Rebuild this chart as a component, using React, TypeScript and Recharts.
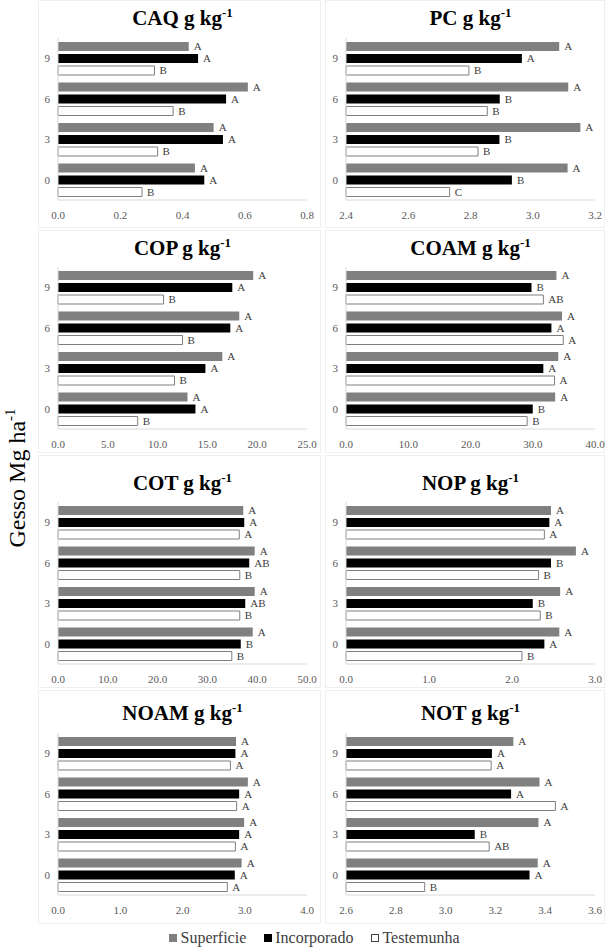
import React from "react";
import { BarChart, Bar, XAxis, YAxis, LabelList } from "recharts";

const doses = ["9", "6", "3", "0"];

const caqSup = [0.42, 0.61, 0.5, 0.44];
const caqInc = [0.45, 0.54, 0.53, 0.47];
const caqTes = [0.31, 0.37, 0.32, 0.27];
const caqLet = [["A", "A", "B"], ["A", "A", "B"], ["A", "A", "B"], ["A", "A", "B"]];

const pcSup = [3.085, 3.114, 3.153, 3.112];
const pcInc = [2.965, 2.894, 2.893, 2.933];
const pcTes = [2.795, 2.854, 2.824, 2.733];
const pcLet = [["A", "A", "B"], ["A", "B", "B"], ["A", "B", "B"], ["A", "B", "C"]];

const copSup = [19.6, 18.2, 16.5, 13.0];
const copInc = [17.5, 17.3, 14.8, 13.8];
const copTes = [10.6, 12.5, 11.7, 8.0];
const copLet = [["A", "A", "B"], ["A", "A", "B"], ["A", "A", "B"], ["A", "A", "B"]];

const coamSup = [33.8, 34.7, 34.1, 33.6];
const coamInc = [29.8, 33.0, 31.7, 30.0];
const coamTes = [31.7, 34.9, 33.5, 29.1];
const coamLet = [["A", "B", "AB"], ["A", "A", "A"], ["A", "A", "A"], ["A", "B", "B"]];

const cotSup = [37.2, 39.5, 39.5, 39.1];
const cotInc = [37.4, 38.4, 37.6, 36.7];
const cotTes = [36.4, 36.5, 36.5, 34.9];
const cotLet = [["A", "A", "A"], ["A", "AB", "B"], ["A", "AB", "B"], ["A", "B", "B"]];

const nopSup = [2.47, 2.77, 2.58, 2.57];
const nopInc = [2.45, 2.47, 2.25, 2.39];
const nopTes = [2.39, 2.32, 2.34, 2.12];
const nopLet = [["A", "A", "A"], ["A", "B", "B"], ["A", "B", "B"], ["A", "A", "B"]];

const noamSup = [2.86, 3.05, 2.99, 2.95];
const noamInc = [2.85, 2.91, 2.91, 2.84];
const noamTes = [2.77, 2.87, 2.85, 2.72];
const noamLet = [["A", "A", "A"], ["A", "A", "A"], ["A", "A", "A"], ["A", "A", "A"]];

const notSup = [3.272, 3.377, 3.373, 3.37];
const notInc = [3.186, 3.263, 3.117, 3.337];
const notTes = [3.183, 3.441, 3.175, 2.916];
const notLet = [["A", "A", "A"], ["A", "A", "A"], ["A", "B", "AB"], ["A", "A", "B"]];

const legendNames = ["Superficie", "Incorporado", "Testemunha"];

const SERIF = "Liberation Serif, Times New Roman, Times, serif";
const GRAY = "#808080";

const buildRows = (sup: number[], inc: number[], tes: number[], lets: string[][]) =>
  doses.map((d, i) => ({
    dose: d,
    sup: sup[i],
    inc: inc[i],
    tes: tes[i],
    supL: lets[i][0],
    incL: lets[i][1],
    tesL: lets[i][2],
  }));

const panels = [
  { name: "CAQ", rows: buildRows(caqSup, caqInc, caqTes, caqLet), domain: [0, 0.8], ticks: [0, 0.2, 0.4, 0.6, 0.8], col: 0, row: 0 },
  { name: "PC", rows: buildRows(pcSup, pcInc, pcTes, pcLet), domain: [2.4, 3.2], ticks: [2.4, 2.6, 2.8, 3.0, 3.2], col: 1, row: 0 },
  { name: "COP", rows: buildRows(copSup, copInc, copTes, copLet), domain: [0, 25], ticks: [0, 5, 10, 15, 20, 25], col: 0, row: 1 },
  { name: "COAM", rows: buildRows(coamSup, coamInc, coamTes, coamLet), domain: [0, 40], ticks: [0, 10, 20, 30, 40], col: 1, row: 1 },
  { name: "COT", rows: buildRows(cotSup, cotInc, cotTes, cotLet), domain: [0, 50], ticks: [0, 10, 20, 30, 40, 50], col: 0, row: 2 },
  { name: "NOP", rows: buildRows(nopSup, nopInc, nopTes, nopLet), domain: [0, 3], ticks: [0, 1, 2, 3], col: 1, row: 2 },
  { name: "NOAM", rows: buildRows(noamSup, noamInc, noamTes, noamLet), domain: [0, 4], ticks: [0, 1, 2, 3, 4], col: 0, row: 3 },
  { name: "NOT", rows: buildRows(notSup, notInc, notTes, notLet), domain: [2.6, 3.6], ticks: [2.6, 2.8, 3.0, 3.2, 3.4, 3.6], col: 1, row: 3 },
];

// layout (pixels)
const plotLeft = [58, 346];
const plotTop = [38, 267, 502, 733];
const titleY = [18, 248, 483, 713];
const plotW = 249;
const plotH = 162;
const yAxisW = 30;
const rightM = 18;
const xAxisH = 28;
const boxX = [[38, 321], [325, 605]];
const boxY = [[0, 228], [230, 453], [455, 688], [690, 924]];

const labelStyle = { fontSize: 11, fill: "#404040", fontFamily: SERIF };
const tickStyle = { fontSize: 11, fill: "#595959", fontFamily: SERIF };

function Panel({ p }: { p: (typeof panels)[number] }) {
  const left = plotLeft[p.col] - yAxisW;
  const top = plotTop[p.row];
  return (
    <>
      <div
        style={{
          position: "absolute",
          left: boxX[p.col][0],
          top: boxY[p.row][0],
          width: boxX[p.col][1] - boxX[p.col][0],
          height: boxY[p.row][1] - boxY[p.row][0],
          border: "1px solid #efefef",
          boxSizing: "border-box",
        }}
      />
      <div
        style={{
          position: "absolute",
          left: plotLeft[p.col],
          width: plotW,
          top: titleY[p.row] - 13,
          height: 26,
          lineHeight: "26px",
          textAlign: "center",
          fontFamily: SERIF,
          fontWeight: "bold",
          fontSize: 21,
          color: "#000",
          whiteSpace: "nowrap",
        }}
      >
        {p.name} g kg<sup style={{ fontSize: 13, verticalAlign: "8px", lineHeight: 0 }}>-1</sup>
      </div>
      <div style={{ position: "absolute", left, top }}>
        <BarChart
          width={yAxisW + plotW + rightM}
          height={plotH + xAxisH}
          data={p.rows}
          layout="vertical"
          margin={{ top: 0, right: rightM, bottom: 0, left: 0 }}
          barSize={9}
          barGap={3}
        >
          <XAxis
            type="number"
            domain={p.domain}
            ticks={p.ticks}
            interval={0}
            height={xAxisH}
            tickLine={false}
            axisLine={{ stroke: "#d9d9d9" }}
            tickFormatter={(v: number) => v.toFixed(1)}
            tick={{ ...tickStyle, dy: 3 }}
          />
          <YAxis
            type="category"
            dataKey="dose"
            width={yAxisW}
            tickLine={false}
            axisLine={{ stroke: "#d9d9d9" }}
            tick={tickStyle}
          />
          <Bar dataKey="sup" fill={GRAY} isAnimationActive={false}>
            <LabelList dataKey="supL" position="right" offset={5} style={labelStyle} />
          </Bar>
          <Bar dataKey="inc" fill="#000" isAnimationActive={false}>
            <LabelList dataKey="incL" position="right" offset={5} style={labelStyle} />
          </Bar>
          <Bar dataKey="tes" fill="#fff" stroke="#7f7f7f" strokeWidth={1} isAnimationActive={false}>
            <LabelList dataKey="tesL" position="right" offset={5} style={labelStyle} />
          </Bar>
        </BarChart>
      </div>
    </>
  );
}

const legendColors = [
  { fill: GRAY, border: GRAY },
  { fill: "#000", border: "#000" },
  { fill: "#fff", border: "#404040" },
];

export default function App() {
  return (
    <div
      style={{
        position: "absolute",
        left: 0,
        top: 0,
        width: 605,
        height: 951,
        background: "#fff",
        overflow: "hidden",
      }}
    >
      {panels.map((p) => (
        <Panel key={p.name} p={p} />
      ))}

      <div
        style={{
          position: "absolute",
          left: 17 - 110,
          top: 478 - 15,
          width: 220,
          height: 30,
          lineHeight: "30px",
          textAlign: "center",
          transform: "rotate(-90deg)",
          fontFamily: SERIF,
          fontSize: 24,
          color: "#000",
          whiteSpace: "nowrap",
        }}
      >
        Gesso Mg ha<sup style={{ fontSize: 15, verticalAlign: "10px", lineHeight: 0 }}>-1</sup>
      </div>

      <div
        style={{
          position: "absolute",
          left: 0,
          width: 605,
          top: 938 - 10,
          height: 20,
          display: "flex",
          justifyContent: "center",
          alignItems: "center",
          fontFamily: SERIF,
          fontSize: 16,
          color: "#404040",
          paddingLeft: 24,
          boxSizing: "border-box",
        }}
      >
        {legendNames.map((n, i) => (
          <span key={n} style={{ display: "flex", alignItems: "center", marginRight: i < 2 ? 18 : 0 }}>
            <span
              style={{
                display: "inline-block",
                width: 8,
                height: 8,
                background: legendColors[i].fill,
                border: `1px solid ${legendColors[i].border}`,
                marginRight: 3,
                boxSizing: "border-box",
              }}
            />
            {n}
          </span>
        ))}
      </div>
    </div>
  );
}
